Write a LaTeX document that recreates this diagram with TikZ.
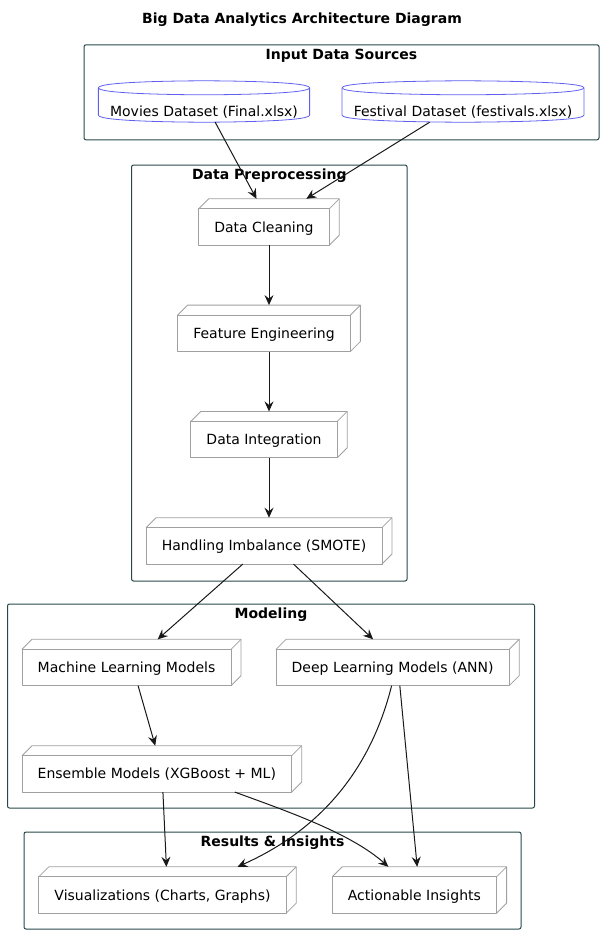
\documentclass[tikz,border=0pt]{standalone}
\usepackage{fontspec}
\setmainfont{DejaVu Sans}
\usetikzlibrary{arrows.meta, positioning, calc}
\definecolor{framegreen}{RGB}{40, 72, 72}
\definecolor{boxgray}{RGB}{160, 160, 160}
\definecolor{dbblue}{RGB}{95, 95, 240}
\definecolor{edgeblack}{RGB}{24, 24, 24}
\newcommand{\nodefont}{\fontsize{14}{17}\selectfont}
\tikzstyle{frame} = [rectangle, rounded corners=2pt, draw=framegreen, line width=1pt]
\tikzstyle{frametitle} = [anchor=base, yshift=-15pt, inner sep=0pt, font=\nodefont\bfseries]
\tikzstyle{boxline} = [draw=boxgray, line width=0.8pt, line join=round]
\tikzstyle{dbline} = [draw=dbblue, line width=0.8pt]
\tikzstyle{box} = [rectangle, inner xsep=15.5pt, inner ysep=0pt, minimum height=46pt, text height=23pt, text depth=3pt, font=\nodefont, execute at end node={\hspace*{10pt}},
  append after command={\pgfextra{
    \draw[boxline] ([yshift=-10pt]\tikzlastnode.north west) rectangle ([xshift=-10pt]\tikzlastnode.south east);
    \draw[boxline] ([yshift=-10pt]\tikzlastnode.north west) -- ([xshift=10pt]\tikzlastnode.north west) -- (\tikzlastnode.north east) -- ([yshift=10pt]\tikzlastnode.south east) -- ([xshift=-10pt]\tikzlastnode.south east);
    \draw[boxline] ([shift={(-10pt,-10pt)}]\tikzlastnode.north east) -- (\tikzlastnode.north east);}}]
\tikzstyle{database} = [rectangle, inner xsep=11.5pt, inner ysep=0pt, minimum height=41pt, text height=32pt, text depth=3pt, font=\nodefont,
  append after command={\pgfextra{
    \draw[dbline] ([yshift=-7pt]\tikzlastnode.north west) .. controls (\tikzlastnode.north west) and (\tikzlastnode.north) .. (\tikzlastnode.north) .. controls (\tikzlastnode.north) and (\tikzlastnode.north east) .. ([yshift=-7pt]\tikzlastnode.north east) -- ([yshift=7pt]\tikzlastnode.south east) .. controls (\tikzlastnode.south east) and (\tikzlastnode.south) .. (\tikzlastnode.south) .. controls (\tikzlastnode.south) and (\tikzlastnode.south west) .. ([yshift=7pt]\tikzlastnode.south west) -- cycle;
    \draw[dbline] ([yshift=-7pt]\tikzlastnode.north west) .. controls ([yshift=-14pt]\tikzlastnode.north west) and ([yshift=-14pt]\tikzlastnode.north) .. ([yshift=-14pt]\tikzlastnode.north) .. controls ([yshift=-14pt]\tikzlastnode.north) and ([yshift=-14pt]\tikzlastnode.north east) .. ([yshift=-7pt]\tikzlastnode.north east);}}]
\tikzstyle{arrow} = [draw=edgeblack, line width=1pt, -{Stealth[length=10pt, width=9pt, inset=3.5pt]}]

\begin{document}
\begin{tikzpicture}[x=1pt, y=-1pt, node distance=106.3pt]
\useasboundingbox (0,0) rectangle (604,934);

% Title
\node (title) [anchor=base, font=\nodefont\bfseries] at (302,23.3) {Big Data Analytics Architecture Diagram};

% Frames
\node (inputs) [frame, minimum width=515pt, minimum height=95pt, label={[frametitle]north:Input Data Sources}] at (341.5,92.3) {};
\node (prep) [frame, minimum width=275.5pt, minimum height=416pt, label={[frametitle]north:Data Preprocessing}] at (269.3,373) {};
\node (modeling) [frame, minimum width=527pt, minimum height=204pt, label={[frametitle]north:Modeling}] at (271,706) {};
\node (results) [frame, minimum width=497pt, minimum height=97pt, label={[frametitle]north:Results \& Insights}] at (272.5,880.5) {};

% Input Data Sources
\node (movies) [database] at (204,101.5) {Movies Dataset (Final.xlsx)};
\node (festival) [database] at (463,101.5) {Festival Dataset (festivals.xlsx)};

% Data Preprocessing
\node (clean) [box] at (269,222) {Data Cleaning};
\node (feature) [box, below of=clean] {Feature Engineering};
\node (integrate) [box, below of=feature] {Data Integration};
\node (smote) [box, below of=integrate] {Handling Imbalance (SMOTE)};

% Modeling
\node (ml) [box] at (131.5,662.5) {Machine Learning Models};
\node (ann) [box, right=35pt of ml] {Deep Learning Models (ANN)};
\node (ensemble) [box, below=60pt of ml.south west, anchor=north west] {Ensemble Models (XGBoost + ML)};

% Results & Insights
\node (charts) [box] at (167.5,890) {Visualizations (Charts, Graphs)};
\node (insights) [box, right=36pt of charts] {Actionable Insights};

% Arrows
\draw [arrow] (movies) -- (clean);
\draw [arrow] (festival) -- (clean);
\draw [arrow] (clean) -- (feature);
\draw [arrow] (feature) -- (integrate);
\draw [arrow] (integrate) -- (smote);
\draw [arrow] (smote) -- (ml);
\draw [arrow] (smote) -- (ann);
\draw [arrow] (ml) -- (ensemble);
\draw [arrow] (ensemble) -- (charts);
\draw [arrow] (ann) -- (insights);
\draw [arrow] ([xshift=-6pt]ann.south) .. controls +(-21,84) and +(83,-37) .. ([xshift=70pt]charts.north);
\draw [arrow] ([xshift=73pt]ensemble.south) .. controls +(55,20) and +(-37,-33) .. ([xshift=-31pt]insights.north);

\end{tikzpicture}
\end{document}
